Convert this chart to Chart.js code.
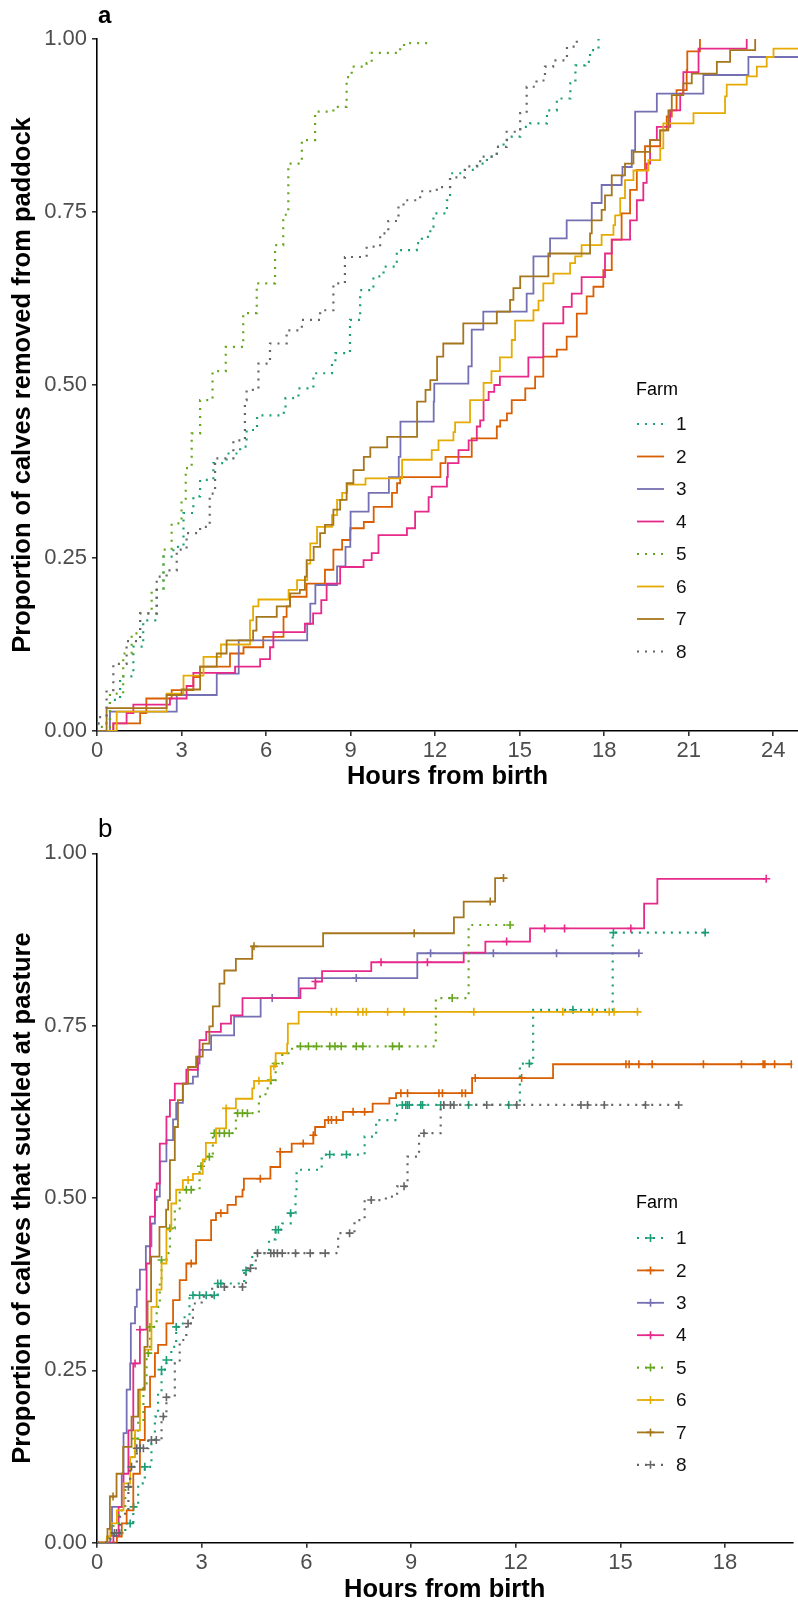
<!DOCTYPE html>
<html>
<head>
<meta charset="utf-8">
<title>Calves: removal from paddock and suckling at pasture</title>
<style>
  html, body { margin: 0; padding: 0; background: #fff; }
  #panelA { position: absolute; left: 0; top: 0; width: 798px; height: 790px; }
  #panelB { position: absolute; left: 0; top: 790px; width: 798px; height: 814px; }
</style>
<script src="https://cdn.jsdelivr.net/npm/chart.js@4.4.1/dist/chart.umd.min.js"></script>
</head>
<body>
<div id="panelA"><canvas id="chartA"></canvas></div>
<div id="panelB"><canvas id="chartB"></canvas></div>
<script>
// ---- data ----
const farmLabels = ['1', '2', '3', '4', '5', '6', '7', '8'];
const farmColors = ['#1B9E77', '#D95F02', '#7570B3', '#E7298A', '#66A61E', '#E6AB02', '#A6761D', '#666666'];
const dottedFarms = [1, 5, 8];

const hourTicksA = [0, 3, 6, 9, 12, 15, 18, 21, 24];
const hourTicksB = [0, 3, 6, 9, 12, 15, 18];
const propTicks = [0, 0.25, 0.5, 0.75, 1];

// panel a: [hours, cumulative proportion removed]
const removedF1 = [[0,0],[0.05,0.011],[0.46,0.045],[0.82,0.079],[1.29,0.122],[1.64,0.16],[2.12,0.204],[2.36,0.252],[2.71,0.266],[3.07,0.315],[3.42,0.339],[3.66,0.363],[4.13,0.387],[4.6,0.401],[5.08,0.411],[5.31,0.435],[5.68,0.456],[6.63,0.462],[6.69,0.481],[7.15,0.495],[7.68,0.517],[8.34,0.531],[8.46,0.546],[8.98,0.594],[9.34,0.637],[9.81,0.657],[10.17,0.671],[10.64,0.695],[11.35,0.705],[11.53,0.714],[11.83,0.729],[11.94,0.748],[12.42,0.767],[12.53,0.806],[13.0,0.811],[13.48,0.82],[13.84,0.83],[14.19,0.844],[14.43,0.854],[14.72,0.859],[15.02,0.873],[15.37,0.878],[15.97,0.897],[16.32,0.914],[16.8,0.936],[16.98,0.962],[17.33,0.967],[17.5,0.984],[17.8,1.0]];
const removedF2 = [[0,0],[0.58,0.011],[1.53,0.026],[1.75,0.047],[2.65,0.059],[3.42,0.078],[3.66,0.093],[4.72,0.112],[5.2,0.121],[5.9,0.136],[6.62,0.165],[6.73,0.18],[6.85,0.194],[7.44,0.213],[8.09,0.233],[8.39,0.262],[8.7,0.276],[8.99,0.293],[9.47,0.302],[9.82,0.324],[10.47,0.344],[10.65,0.358],[10.76,0.367],[12.19,0.387],[12.37,0.396],[13.3,0.423],[14.19,0.44],[14.31,0.449],[14.55,0.459],[14.72,0.478],[15.2,0.495],[15.55,0.512],[15.84,0.541],[16.32,0.551],[16.67,0.57],[17.03,0.603],[17.38,0.628],[17.62,0.642],[17.97,0.666],[18.27,0.71],[18.62,0.748],[18.92,0.782],[19.16,0.811],[19.45,0.845],[19.99,0.868],[20.22,0.888],[20.4,0.897],[20.57,0.926],[20.93,0.955],[20.95,0.982],[21.4,1.0]];
const removedF3 = [[0,0],[0.46,0.028],[2.83,0.052],[4.25,0.083],[5.03,0.131],[7.46,0.155],[7.57,0.184],[7.75,0.211],[8.52,0.238],[8.82,0.266],[8.99,0.29],[9.0,0.317],[9.64,0.344],[10.36,0.367],[10.71,0.396],[10.77,0.447],[11.95,0.476],[11.97,0.502],[13.18,0.527],[13.3,0.58],[13.71,0.606],[15.25,0.632],[15.49,0.686],[16.08,0.712],[16.67,0.738],[17.56,0.763],[17.91,0.789],[18.62,0.801],[18.65,0.815],[18.98,0.839],[19.1,0.895],[19.87,0.921],[21.52,0.948],[23.12,0.974],[25.5,0.974]];
const removedF4 = [[0,0],[0.58,0.011],[1.05,0.026],[1.29,0.038],[2.59,0.047],[3.18,0.065],[3.42,0.084],[4.9,0.093],[5.79,0.104],[6.14,0.121],[6.26,0.143],[7.38,0.155],[7.67,0.17],[7.96,0.189],[8.15,0.213],[8.63,0.237],[9.46,0.247],[9.75,0.257],[9.99,0.283],[11.0,0.293],[11.29,0.317],[11.77,0.338],[11.88,0.353],[12.42,0.367],[12.45,0.387],[12.83,0.406],[13.19,0.42],[13.48,0.44],[13.6,0.449],[13.72,0.478],[13.9,0.49],[14.1,0.5],[14.3,0.512],[15.31,0.54],[15.84,0.589],[16.55,0.613],[16.85,0.632],[17.2,0.656],[18.03,0.69],[18.27,0.71],[18.92,0.738],[19.16,0.767],[19.39,0.792],[19.51,0.82],[19.63,0.854],[19.87,0.873],[20.34,0.897],[20.7,0.921],[20.81,0.952],[21.35,0.986],[23.06,1.0]];
const removedF5 = [[0,0],[0.05,0.006],[0.46,0.054],[0.93,0.112],[1.23,0.141],[1.53,0.17],[1.94,0.204],[2.36,0.262],[2.65,0.3],[3.0,0.334],[3.15,0.38],[3.36,0.43],[3.66,0.478],[4.1,0.52],[4.57,0.555],[5.19,0.604],[5.67,0.647],[6.32,0.702],[6.61,0.746],[6.79,0.82],[7.27,0.854],[7.74,0.895],[8.39,0.902],[8.86,0.945],[9.04,0.96],[9.57,0.965],[9.75,0.98],[10.76,0.987],[10.9,0.994],[11.8,0.994]];
const removedF6 = [[0,0],[0.7,0.028],[2.47,0.054],[3.07,0.08],[3.78,0.107],[4.4,0.125],[5.43,0.16],[5.54,0.18],[5.73,0.19],[6.8,0.204],[7.1,0.218],[7.46,0.242],[7.57,0.271],[7.81,0.295],[8.34,0.312],[8.52,0.334],[8.7,0.344],[8.88,0.356],[9.53,0.365],[10.83,0.392],[11.88,0.406],[12.12,0.42],[12.65,0.432],[12.71,0.446],[13.24,0.478],[13.72,0.503],[14.0,0.52],[14.3,0.54],[14.72,0.565],[14.84,0.593],[15.49,0.608],[15.67,0.622],[15.84,0.647],[16.2,0.661],[16.79,0.676],[16.97,0.686],[17.2,0.702],[17.91,0.717],[18.33,0.731],[18.39,0.745],[18.57,0.77],[18.74,0.796],[19.04,0.81],[19.57,0.825],[19.99,0.842],[20.1,0.878],[21.17,0.893],[22.29,0.917],[22.35,0.934],[23.06,0.946],[23.42,0.96],[23.77,0.974],[24.01,0.986],[25.5,0.986]];
const removedF7 = [[0,0],[0.34,0.033],[2.47,0.052],[3.0,0.06],[3.66,0.093],[4.25,0.112],[4.6,0.131],[5.54,0.145],[5.66,0.165],[6.38,0.18],[6.85,0.199],[7.2,0.204],[7.38,0.223],[7.44,0.247],[7.69,0.266],[7.92,0.286],[8.09,0.298],[8.39,0.32],[8.63,0.334],[8.86,0.358],[9.1,0.377],[9.47,0.396],[9.7,0.41],[10.3,0.425],[11.36,0.476],[11.66,0.493],[11.83,0.507],[12.07,0.541],[12.29,0.56],[13.0,0.589],[14.19,0.606],[14.66,0.623],[14.78,0.64],[15.02,0.657],[16.02,0.69],[17.5,0.719],[17.56,0.738],[17.91,0.753],[18.03,0.774],[18.27,0.803],[18.74,0.82],[19.04,0.837],[19.63,0.854],[19.99,0.868],[20.28,0.897],[20.4,0.919],[20.81,0.936],[21.11,0.95],[22.0,0.967],[22.47,0.984],[23.36,1.0]];
const removedF8 = [[0,0],[0.05,0.02],[0.34,0.059],[0.58,0.097],[1.05,0.13],[1.53,0.17],[2.12,0.223],[2.47,0.232],[2.83,0.262],[3.18,0.286],[3.66,0.295],[4.0,0.343],[4.19,0.394],[4.84,0.42],[5.25,0.478],[5.31,0.493],[5.73,0.531],[6.14,0.56],[6.73,0.579],[7.27,0.594],[7.92,0.608],[8.39,0.647],[8.8,0.685],[9.57,0.7],[10.05,0.719],[10.34,0.737],[10.7,0.758],[10.88,0.767],[11.47,0.78],[12.06,0.786],[12.53,0.8],[13.06,0.816],[13.6,0.83],[14.19,0.844],[14.54,0.866],[15.02,0.893],[15.25,0.931],[15.6,0.94],[15.9,0.96],[16.19,0.969],[16.68,0.989],[17.03,1.0]];

// panel b: [hours, cumulative proportion suckled] and censoring times (+)
const suckledF1 = [[0,0],[0.52,0.014],[0.81,0.028],[1.04,0.052],[1.18,0.086],[1.37,0.11],[1.56,0.144],[1.66,0.183],[1.75,0.217],[1.85,0.251],[1.99,0.265],[2.13,0.284],[2.27,0.313],[2.46,0.327],[2.65,0.359],[3.46,0.376],[4.22,0.395],[4.45,0.42],[4.93,0.44],[5.12,0.454],[5.31,0.463],[5.55,0.478],[5.69,0.507],[5.72,0.541],[6.44,0.563],[7.67,0.589],[8.0,0.613],[8.6,0.635],[12.12,0.695],[12.5,0.773],[14.78,0.885]];
const suckledF2 = [[0,0],[0.57,0.009],[0.71,0.028],[0.85,0.047],[1.04,0.1],[1.23,0.149],[1.37,0.197],[1.52,0.241],[1.66,0.275],[1.75,0.287],[1.99,0.318],[2.18,0.352],[2.37,0.381],[2.56,0.405],[2.84,0.439],[3.27,0.468],[3.41,0.478],[3.74,0.49],[3.98,0.502],[4.17,0.512],[4.21,0.528],[4.97,0.545],[5.25,0.567],[5.58,0.579],[6.2,0.591],[6.25,0.603],[6.53,0.613],[7.05,0.625],[7.9,0.637],[8.38,0.645],[8.57,0.652],[10.75,0.674],[13.07,0.694]];
const suckledF3 = [[0,0],[0.38,0.01],[0.43,0.052],[0.71,0.1],[0.76,0.159],[0.85,0.222],[0.95,0.26],[0.97,0.318],[1.09,0.342],[1.14,0.367],[1.23,0.396],[1.4,0.43],[1.56,0.463],[1.66,0.497],[1.71,0.502],[1.8,0.553],[1.99,0.584],[2.18,0.614],[2.27,0.638],[2.46,0.666],[2.75,0.676],[2.89,0.695],[2.94,0.715],[3.27,0.736],[3.93,0.763],[4.69,0.79],[5.78,0.819],[9.18,0.855]];
const suckledF4 = [[0,0],[0.47,0.01],[0.62,0.052],[0.76,0.1],[0.9,0.163],[1.04,0.26],[1.23,0.309],[1.42,0.405],[1.52,0.473],[1.66,0.512],[1.71,0.521],[1.8,0.579],[1.99,0.618],[2.09,0.642],[2.23,0.666],[2.56,0.686],[2.89,0.705],[2.94,0.729],[3.13,0.741],[3.55,0.753],[3.84,0.765],[4.17,0.79],[5.83,0.804],[6.26,0.814],[6.45,0.829],[7.86,0.842],[10.51,0.856],[11.13,0.872],[12.41,0.891],[15.68,0.927],[16.06,0.963]];
const suckledF5 = [[0,0],[0.35,0.01],[0.47,0.028],[0.62,0.047],[0.81,0.081],[0.95,0.124],[1.09,0.151],[1.18,0.178],[1.33,0.231],[1.42,0.275],[1.52,0.313],[1.71,0.342],[1.8,0.381],[1.85,0.41],[1.99,0.42],[2.09,0.456],[2.23,0.483],[2.37,0.512],[2.94,0.546],[3.08,0.56],[3.32,0.594],[3.98,0.623],[4.64,0.647],[4.83,0.659],[4.98,0.671],[5.12,0.695],[5.31,0.71],[5.59,0.72],[9.71,0.79],[10.65,0.896]];
const suckledF6 = [[0,0],[0.28,0.009],[0.38,0.028],[0.57,0.047],[0.76,0.086],[0.95,0.124],[1.09,0.163],[1.23,0.222],[1.37,0.28],[1.56,0.342],[1.71,0.367],[1.85,0.405],[1.99,0.454],[2.13,0.492],[2.27,0.512],[2.46,0.526],[2.75,0.535],[3.03,0.556],[3.12,0.58],[3.41,0.601],[3.7,0.63],[3.98,0.644],[4.45,0.659],[4.5,0.67],[4.98,0.691],[5.12,0.71],[5.45,0.724],[5.47,0.753],[5.78,0.77]];
const suckledF7 = [[0,0],[0.3,0.02],[0.37,0.067],[0.56,0.1],[0.75,0.139],[0.99,0.183],[1.18,0.222],[1.36,0.284],[1.45,0.35],[1.55,0.415],[1.79,0.458],[1.98,0.483],[2.04,0.497],[2.09,0.555],[2.23,0.603],[2.32,0.642],[2.46,0.666],[2.61,0.69],[2.84,0.705],[3.03,0.724],[3.22,0.749],[3.32,0.778],[3.51,0.811],[3.65,0.83],[3.98,0.847],[4.45,0.865],[6.48,0.884],[10.23,0.907],[10.51,0.93],[11.41,0.964]];
const suckledF8 = [[0,0],[0.3,0.005],[0.43,0.014],[0.66,0.042],[0.9,0.081],[0.95,0.11],[1.14,0.137],[1.47,0.149],[1.85,0.183],[1.99,0.211],[2.23,0.26],[2.37,0.294],[2.56,0.318],[2.75,0.347],[3.0,0.357],[3.3,0.371],[4.27,0.398],[4.55,0.42],[6.91,0.449],[7.38,0.468],[7.67,0.497],[8.28,0.502],[8.6,0.517],[8.9,0.56],[9.23,0.594],[9.85,0.635]];

const censoredF1 = [0.65, 0.95, 1.05, 1.37, 1.85, 1.99, 2.27, 2.75, 2.94, 3.13, 3.36, 3.46, 3.55, 4.27, 5.12, 5.2, 5.55, 6.67, 7.15, 8.75, 8.85, 8.9, 8.95, 9.28, 9.33, 9.85, 10.65, 11.8, 12.39, 13.64, 14.8, 17.43];
const censoredF2 = [2.7, 3.55, 4.68, 5.25, 5.91, 6.2, 6.63, 6.72, 6.86, 7.34, 7.67, 8.71, 8.9, 9.8, 9.9, 10.46, 10.56, 10.84, 12.17, 15.16, 15.25, 15.53, 15.91, 17.38, 18.47, 19.09, 19.14, 19.42, 19.9];
const censoredF3 = [5.02, 7.43, 9.56, 11.36, 13.17, 15.53];
const censoredF4 = [1.09, 1.23, 6.26, 8.14, 9.47, 11.74, 12.83, 13.4, 15.3, 19.18];
const censoredF5 = [1.09, 1.47, 1.52, 1.85, 2.09, 2.56, 2.7, 2.98, 3.22, 3.36, 3.51, 3.65, 3.79, 4.03, 4.17, 4.31, 4.98, 5.12, 5.83, 6.06, 6.29, 6.67, 6.82, 7.0, 7.43, 7.62, 8.47, 8.66, 10.18, 11.84];
const censoredF6 = [2.61, 3.7, 4.64, 5.07, 6.72, 6.86, 7.48, 7.62, 7.72, 8.33, 8.8, 10.8, 13.35, 14.2, 14.68, 14.82, 15.49];
const censoredF7 = [0.46, 4.5, 9.09, 11.27, 11.65];
const censoredF8 = [0.5, 0.56, 0.9, 0.99, 1.14, 1.24, 1.33, 1.56, 1.7, 1.9, 1.99, 2.61, 3.65, 4.17, 4.4, 4.6, 4.98, 5.07, 5.17, 5.31, 5.69, 6.11, 6.54, 7.24, 7.86, 8.8, 9.37, 9.94, 10.13, 10.23, 11.17, 12.03, 13.87, 14.06, 14.54, 15.72, 16.67];

const removedSeries = [removedF1, removedF2, removedF3, removedF4, removedF5, removedF6, removedF7, removedF8];
const suckledSeries = [suckledF1, suckledF2, suckledF3, suckledF4, suckledF5, suckledF6, suckledF7, suckledF8];
const censoredSeries = [censoredF1, censoredF2, censoredF3, censoredF4, censoredF5, censoredF6, censoredF7, censoredF8];

// ---- helpers ----
const FONT = '"Liberation Sans", Arial, sans-serif';

// merge step events with censoring marks (a mark sits on the curve value at its time)
function stepPoints(events, censors) {
  const pts = events.map(([x, y]) => ({ x, y, cens: false }));
  (censors || []).forEach(t => {
    let y = 0;
    events.forEach(([ex, ey]) => { if (ex <= t) y = ey; });
    pts.push({ x: t, y, cens: true });
  });
  pts.sort((a, b) => a.x - b.x || (a.cens - b.cens));
  return pts;
}

function farmDataset(i, pts) {
  const dotted = dottedFarms.includes(i + 1);
  return {
    label: farmLabels[i],
    data: pts,
    borderColor: farmColors[i],
    backgroundColor: farmColors[i],
    borderWidth: dotted ? 2.2 : 1.8,
    borderDash: dotted ? [2, 6] : [],
    stepped: true,
    pointStyle: 'cross',
    pointRadius: c => (c.raw && c.raw.cens ? 4 : 0),
    pointHoverRadius: 0,
    pointBorderWidth: 1.6,
    pointBorderColor: farmColors[i],
    order: 8 - i
  };
}

// panel letter + ggplot-like legend drawn inside the plot
const panelDecor = {
  id: 'panelDecor',
  afterDraw(chart, args, opts) {
    const ctx = chart.ctx;
    ctx.save();
    ctx.fillStyle = '#000';
    ctx.textAlign = 'left';
    ctx.textBaseline = 'alphabetic';
    ctx.font = (opts.letterBold ? 'bold ' : '') + opts.letterSize + 'px ' + FONT;
    ctx.fillText(opts.letter, opts.letterX, opts.letterY);

    ctx.textBaseline = 'middle';
    ctx.font = '18px ' + FONT;
    ctx.fillText('Farm', opts.legendX, opts.legendTop);
    ctx.font = '19px ' + FONT;
    chart.data.datasets.forEach((ds, i) => {
      const y = opts.legendTop + opts.firstGap + i * opts.rowGap;
      const x0 = opts.legendX + 1, x1 = opts.legendX + 28;
      ctx.strokeStyle = ds.borderColor;
      ctx.lineWidth = ds.borderWidth;
      ctx.setLineDash(ds.borderDash);
      ctx.beginPath();
      ctx.moveTo(x0, y);
      ctx.lineTo(x1, y);
      ctx.stroke();
      ctx.setLineDash([]);
      if (opts.cross) {
        const cx = (x0 + x1) / 2;
        ctx.lineWidth = 1.6;
        ctx.beginPath();
        ctx.moveTo(cx - 4, y); ctx.lineTo(cx + 4, y);
        ctx.moveTo(cx, y - 4); ctx.lineTo(cx, y + 4);
        ctx.stroke();
      }
      ctx.fillStyle = '#111';
      ctx.fillText(ds.label, opts.legendX + 40, y + 1);
    });
    ctx.restore();
  }
};

function buildOptions(cfg) {
  return {
    responsive: true,
    maintainAspectRatio: false,
    animation: false,
    devicePixelRatio: 1,
    layout: { padding: { top: cfg.padTop, left: 0, right: 0, bottom: 0 } },
    plugins: {
      legend: { display: false },
      tooltip: { enabled: false },
      panelDecor: cfg.decor
    },
    scales: {
      x: {
        type: 'linear',
        min: 0,
        max: cfg.xMax,
        afterBuildTicks: s => { s.ticks = cfg.xTicks.map(v => ({ value: v })); },
        afterFit: s => { s.height = cfg.xAxisHeight; },
        border: { display: true, color: '#000', width: 1.6 },
        grid: { display: true, drawOnChartArea: false, drawTicks: true, tickLength: 5, color: '#333', lineWidth: 1.6 },
        ticks: { color: '#4D4D4D', font: { family: FONT, size: 22 }, padding: 2, maxRotation: 0, callback: v => String(v) },
        title: {
          display: true,
          text: 'Hours from birth',
          color: '#000',
          font: { family: FONT, size: 25.5, weight: 'bold', lineHeight: 1 },
          padding: { top: 0, bottom: cfg.xTitlePad }
        }
      },
      y: {
        type: 'linear',
        min: 0,
        max: 1,
        afterBuildTicks: s => { s.ticks = propTicks.map(v => ({ value: v })); },
        afterFit: s => { s.width = 97; },
        border: { display: true, color: '#000', width: 1.6 },
        grid: { display: true, drawOnChartArea: false, drawTicks: true, tickLength: 5, color: '#333', lineWidth: 1.6 },
        ticks: { color: '#4D4D4D', font: { family: FONT, size: 22 }, padding: 5, callback: v => v.toFixed(2) },
        title: {
          display: true,
          text: cfg.yTitle,
          color: '#000',
          font: { family: FONT, size: 25.5, weight: 'bold', lineHeight: 1 },
          padding: { top: 10, bottom: 0 }
        }
      }
    }
  };
}

// ---- panel a ----
new Chart(document.getElementById('chartA'), {
  type: 'line',
  data: { datasets: removedSeries.map((s, i) => farmDataset(i, stepPoints(s, []))) },
  options: buildOptions({
    padTop: 39,
    xMax: 24.88,
    xTicks: hourTicksA,
    xAxisHeight: 59,
    xTitlePad: 0,
    yTitle: 'Proportion of calves removed from paddock',
    decor: { letter: 'a', letterBold: true, letterSize: 24, letterX: 98, letterY: 23,
             legendX: 636, legendTop: 390, firstGap: 34, rowGap: 32.5, cross: false }
  }),
  plugins: [panelDecor]
});

// ---- panel b ----
new Chart(document.getElementById('chartB'), {
  type: 'line',
  data: { datasets: suckledSeries.map((s, i) => farmDataset(i, stepPoints(s, censoredSeries[i]))) },
  options: buildOptions({
    padTop: 63.3,
    xMax: 19.93,
    xTicks: hourTicksB,
    xAxisHeight: 61.3,
    xTitlePad: 1,
    yTitle: 'Proportion of calves that suckled at pasture',
    decor: { letter: 'b', letterBold: false, letterSize: 26, letterX: 98, letterY: 47,
             legendX: 636, legendTop: 413, firstGap: 35, rowGap: 32.4, cross: true }
  }),
  plugins: [panelDecor]
});
</script>
</body>
</html>
